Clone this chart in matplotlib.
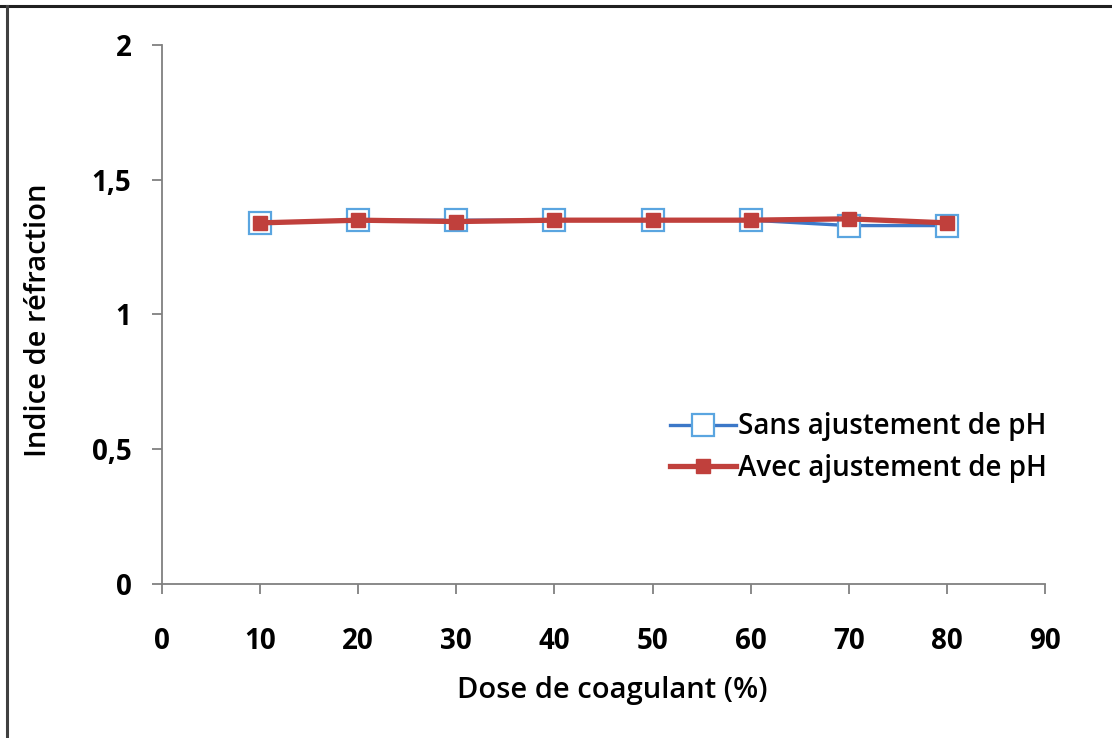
import matplotlib.pyplot as plt
from matplotlib.lines import Line2D
from matplotlib.ticker import FuncFormatter

dose = [10, 20, 30, 40, 50, 60, 70, 80]
sans_ajustement = [1.34, 1.35, 1.35, 1.35, 1.35, 1.35, 1.33, 1.33]
avec_ajustement = [1.34, 1.35, 1.345, 1.35, 1.35, 1.35, 1.355, 1.34]

x_ticks = [0, 10, 20, 30, 40, 50, 60, 70, 80, 90]
y_ticks = [0, 0.5, 1, 1.5, 2]

plt.rcParams['font.family'] = ['Open Sans', 'DejaVu Sans']

fig = plt.figure(figsize=(11.12, 7.38), dpi=100)
ax = fig.add_axes([0.1457, 0.2087, 0.7940, 0.7303])

ax.plot(dose, sans_ajustement, color='#3C78C8', lw=2.4, marker='s', ms=16,
        mfc='white', mec='#5AA5E0', mew=1.6, label='Sans ajustement de pH')
ax.plot(dose, avec_ajustement, color='#C0403C', lw=3.8, marker='s', ms=10.5,
        mfc='#C0403C', mec='#C0403C', label='Avec ajustement de pH')

ax.set_xlim(0, 90)
ax.set_ylim(0, 2)
ax.set_xticks(x_ticks)
ax.set_yticks(y_ticks)
ax.yaxis.set_major_formatter(FuncFormatter(lambda v, p: f'{v:g}'.replace('.', ',')))

for side in ('top', 'right'):
    ax.spines[side].set_visible(False)
for side in ('left', 'bottom'):
    ax.spines[side].set_color('#808080')
    ax.spines[side].set_linewidth(1.3)
ax.tick_params(direction='out', length=7, width=1.3, color='#808080', labelsize=20)
ax.tick_params(axis='x', pad=24)
ax.tick_params(axis='y', pad=15)
for lbl in ax.get_xticklabels() + ax.get_yticklabels():
    lbl.set_fontweight('bold')

ax.set_xlabel('Dose de coagulant (%)', fontsize=21, fontweight='semibold', va='center')
ax.set_ylabel('Indice de réfraction', fontsize=21, fontweight='semibold', va='center')
ax.xaxis.set_label_coords(0.51, -0.197)
ax.yaxis.set_label_coords(-0.14, 0.49)

ax.legend(loc='center left', bbox_to_anchor=(0.575, 0.253), frameon=False,
          handlelength=2.4, handletextpad=0.05, labelspacing=0.45,
          borderaxespad=0, borderpad=0,
          prop={'weight': 'semibold', 'size': 20})

# outer frame of the figure
fig.add_artist(Line2D([0, 1], [0.9925, 0.9925], transform=fig.transFigure,
                      color='#202020', lw=2.2))
fig.add_artist(Line2D([0.0063, 0.0063], [0, 0.9925], transform=fig.transFigure,
                      color='#404040', lw=2.2))

fig.savefig('out.png', dpi=100)
